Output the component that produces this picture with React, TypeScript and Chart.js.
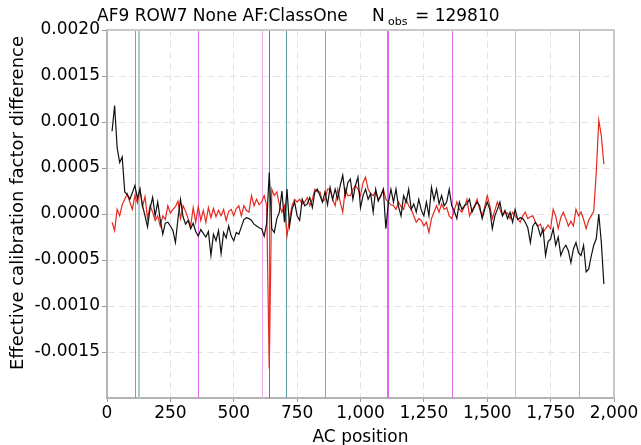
import React, { useEffect, useRef } from "react";
import { Chart, registerables } from "chart.js";

Chart.register(...registerables);

const FONT = "'DejaVu Sans', sans-serif";

// AC position of every sample
const acPositions = [
  20, 30, 40, 50, 60, 70, 80, 90, 100, 110,
  120, 130, 140, 150, 160, 170, 180, 190, 200, 210,
  220, 230, 240, 250, 260, 270, 280, 290, 300, 310,
  320, 330, 340, 350, 360, 370, 380, 390, 400, 410,
  420, 430, 440, 450, 460, 470, 480, 490, 500, 510,
  520, 530, 540, 550, 560, 570, 580, 590, 600, 610,
  620, 630, 640, 650, 660, 670, 680, 690, 700, 710,
  720, 730, 740, 750, 760, 770, 780, 790, 800, 810,
  820, 830, 840, 850, 860, 870, 880, 890, 900, 910,
  920, 930, 940, 950, 960, 970, 980, 990, 1000, 1010,
  1020, 1030, 1040, 1050, 1060, 1070, 1080, 1090, 1100, 1110,
  1120, 1130, 1140, 1150, 1160, 1170, 1180, 1190, 1200, 1210,
  1220, 1230, 1240, 1250, 1260, 1270, 1280, 1290, 1300, 1310,
  1320, 1330, 1340, 1350, 1360, 1370, 1380, 1390, 1400, 1410,
  1420, 1430, 1440, 1450, 1460, 1470, 1480, 1490, 1500, 1510,
  1520, 1530, 1540, 1550, 1560, 1570, 1580, 1590, 1600, 1610,
  1620, 1630, 1640, 1650, 1660, 1670, 1680, 1690, 1700, 1710,
  1720, 1730, 1740, 1750, 1760, 1770, 1780, 1790, 1800, 1810,
  1820, 1830, 1840, 1850, 1860, 1870, 1880, 1890, 1900, 1910,
  1920, 1930, 1940, 1950, 1960,
];

// black series
const blackSeries = [
  9.0e-4, 11.8e-4, 7.2e-4, 5.6e-4, 6.2e-4, 2.4e-4, 2.1e-4, 1.6e-4, 2.3e-4, 3.1e-4,
  1.7e-4, 2.7e-4, 0.9e-4, -0.2e-4, -1.4e-4, 0.6e-4, 1.8e-4, -0.2e-4, 1.3e-4, -0.6e-4,
  -2.2e-4, -1.0e-4, -0.9e-4, -1.3e-4, -1.8e-4, -3.1e-4, -0.5e-4, 1.6e-4, -0.3e-4, -1.1e-4,
  -0.7e-4, -1.6e-4, -1.0e-4, -1.9e-4, -2.4e-4, -1.7e-4, -2.1e-4, -2.5e-4, -1.9e-4, -4.5e-4,
  -2.2e-4, -2.9e-4, -1.8e-4, -4.3e-4, -2.0e-4, -2.6e-4, -1.3e-4, -2.4e-4, -2.9e-4, -2.0e-4,
  -2.2e-4, -1.4e-4, -0.6e-4, -0.4e-4, -0.5e-4, -0.7e-4, -1.1e-4, -1.3e-4, -1.5e-4, -1.6e-4,
  -2.4e-4, -1.0e-4, 4.5e-4, -1.6e-4, -2.0e-4, -0.5e-4, 0.2e-4, 2.5e-4, -0.9e-4, 2.7e-4,
  -1.3e-4, 0.5e-4, 1.3e-4, -0.2e-4, -0.7e-4, 1.6e-4, 0.9e-4, 1.1e-4, 1.8e-4, 0.7e-4,
  2.4e-4, 2.7e-4, 2.0e-4, 1.3e-4, 2.4e-4, 1.0e-4, 2.9e-4, 1.6e-4, 2.7e-4, 1.6e-4,
  3.1e-4, 4.2e-4, 2.0e-4, 3.4e-4, 3.8e-4, 1.6e-4, 3.1e-4, 4.0e-4, 0.7e-4, 2.0e-4,
  2.7e-4, 1.6e-4, 2.2e-4, 0.2e-4, 2.7e-4, 1.4e-4, 2.0e-4, 2.7e-4, -1.6e-4, 1.2e-4,
  2.7e-4, 1.3e-4, 2.7e-4, 0.8e-4, -0.2e-4, 2.0e-4, 1.3e-4, 2.7e-4, 0.5e-4, 1.1e-4,
  0.2e-4, 1.6e-4, 0.4e-4, -0.2e-4, 1.3e-4, -0.2e-4, 2.9e-4, 1.5e-4, 2.7e-4, 1.1e-4,
  2.0e-4, 0.9e-4, 1.3e-4, 2.7e-4, 0.9e-4, 0.3e-4, -0.5e-4, 1.3e-4, 0.5e-4, 0.9e-4,
  1.1e-4, 1.6e-4, 0.2e-4, 0.8e-4, 1.3e-4, 0.9e-4, -0.5e-4, 0.5e-4, 1.3e-4, 0.5e-4,
  -1.6e-4, -0.2e-4, 0.5e-4, 1.3e-4, -0.2e-4, 0.4e-4, -0.5e-4, 0.2e-4, -0.9e-4, 0.5e-4,
  -0.6e-4, -0.4e-4, -0.5e-4, -0.9e-4, -1.5e-4, -3.1e-4, -1.3e-4, -0.9e-4, -1.4e-4, -2.4e-4,
  -1.6e-4, -4.5e-4, -3.0e-4, -2.7e-4, -1.6e-4, -3.4e-4, -2.5e-4, -4.5e-4, -3.8e-4, -3.4e-4,
  -4.0e-4, -5.3e-4, -3.8e-4, -3.1e-4, -4.2e-4, -4.5e-4, -3.4e-4, -6.3e-4, -6.0e-4, -4.6e-4,
  -3.4e-4, -2.7e-4, 0.0e-4, -3.1e-4, -7.6e-4,
];

// red series
const redSeries = [
  -0.9e-4, -1.8e-4, 0.5e-4, -0.2e-4, 1.0e-4, 1.6e-4, 2.2e-4, 1.3e-4, 0.5e-4, 2.0e-4,
  1.2e-4, 2.7e-4, 0.8e-4, 1.9e-4, -0.5e-4, 0.9e-4, 0.2e-4, -0.7e-4, -0.2e-4, -1.3e-4,
  -0.2e-4, -0.6e-4, 0.9e-4, 0.1e-4, 0.5e-4, 0.8e-4, 1.4e-4, -0.5e-4, 0.9e-4, 0.3e-4,
  -0.5e-4, -1.3e-4, 0.7e-4, -0.9e-4, 0.8e-4, -0.7e-4, 0.4e-4, -0.9e-4, 0.7e-4, -0.4e-4,
  0.6e-4, -0.3e-4, 0.4e-4, -0.2e-4, 0.5e-4, -0.7e-4, 0.3e-4, 0.5e-4, -0.2e-4, 0.6e-4,
  0.9e-4, -0.2e-4, 0.9e-4, 0.4e-4, 0.2e-4, 2.0e-4, 0.9e-4, 1.6e-4, 1.0e-4, 1.3e-4,
  2.0e-4, 0.9e-4, -16.8e-4, 2.7e-4, 2.0e-4, 2.4e-4, 1.0e-4, 0.2e-4, 0.9e-4, -2.4e-4,
  -0.5e-4, 0.9e-4, 1.6e-4, 1.3e-4, 1.6e-4, 1.1e-4, 1.3e-4, 1.8e-4, 0.9e-4, 1.6e-4,
  2.7e-4, 2.4e-4, 2.4e-4, 1.3e-4, 1.6e-4, 2.7e-4, 2.7e-4, 1.6e-4, 0.9e-4, 2.7e-4,
  1.3e-4, 0.2e-4, 2.7e-4, 2.0e-4, 2.0e-4, 2.7e-4, 3.1e-4, 2.7e-4, 2.0e-4, 3.4e-4,
  4.0e-4, 2.7e-4, 2.2e-4, 2.0e-4, 2.4e-4, 1.6e-4, 1.9e-4, 2.7e-4, 1.6e-4, 1.3e-4,
  1.0e-4, 0.9e-4, 0.5e-4, 1.3e-4, 0.8e-4, 0.5e-4, 1.6e-4, 0.9e-4, 0.5e-4, -0.2e-4,
  -0.9e-4, -0.5e-4, -0.7e-4, -1.3e-4, -0.9e-4, -2.0e-4, -0.5e-4, 0.2e-4, 0.9e-4, 0.2e-4,
  1.1e-4, 0.5e-4, 0.7e-4, -0.2e-4, -0.5e-4, 0.4e-4, 1.3e-4, 0.5e-4, 0.2e-4, 0.8e-4,
  1.6e-4, -0.2e-4, 0.4e-4, 0.9e-4, 1.6e-4, 0.5e-4, -0.2e-4, 0.8e-4, 2.0e-4, 0.9e-4,
  -0.5e-4, 0.4e-4, 1.3e-4, 0.5e-4, -0.2e-4, 0.2e-4, 0.1e-4, -0.5e-4, 0.2e-4, -0.2e-4,
  -0.5e-4, -0.9e-4, -0.2e-4, 0.2e-4, -0.5e-4, -0.3e-4, -0.2e-4, -0.9e-4, -1.3e-4, -1.1e-4,
  -2.0e-4, -1.6e-4, -1.2e-4, -1.6e-4, 0.5e-4, -0.2e-4, -1.6e-4, -0.4e-4, 0.2e-4, -0.5e-4,
  -1.3e-4, -0.8e-4, -1.3e-4, 0.5e-4, -0.2e-4, 0.2e-4, -0.6e-4, -1.6e-4, -0.7e-4, -0.2e-4,
  0.3e-4, 4.5e-4, 10.2e-4, 8.5e-4, 5.4e-4,
];

// vertical reference lines (AC positions)
const magentaLines = [110, 360, 610, 860, 1110, 1360, 1610, 1860];
const magentaColors = ["#dd66e6", "#e070e8", "#f0a8f0", "#e070e8", "#dd66e6", "#e070e8", "#f0a8f0", "#e48ae8"];
const tealLines = [125, 641, 707, 1103];
const tealColors = ["#a9cccc", "#4f8484", "#5f9ea0", "#7fa8a8"];
const tealWidths = [2, 1, 1, 1];

const xTickValues = [0, 250, 500, 750, 1000, 1250, 1500, 1750, 2000];
const yTickValues = [-0.0015, -0.001, -0.0005, 0, 0.0005, 0.001, 0.0015, 0.002];

const TITLE_MAIN = "AF9 ROW7 None AF:ClassOne";
const TITLE_N = "N";
const TITLE_SUB = "obs";
const TITLE_COUNT = "= 129810";
const X_TITLE = "AC position";
const Y_TITLE = "Effective calibration factor difference";

const overlayPlugin = {
  id: "overlay",
  beforeDatasetsDraw(chart: any) {
    const { ctx, chartArea: a, scales } = chart;
    const x = scales.x;
    ctx.save();
    const drawV = (pos: number, color: string, w: number) => {
      const px = Math.round(x.getPixelForValue(pos)) + (w % 2 ? 0.5 : 0);
      ctx.strokeStyle = color;
      ctx.lineWidth = w;
      ctx.beginPath();
      ctx.moveTo(px, a.top);
      ctx.lineTo(px, a.bottom);
      ctx.stroke();
    };
    magentaLines.forEach((p, i) => drawV(p, magentaColors[i], 1));
    tealLines.forEach((p, i) => drawV(p, tealColors[i], tealWidths[i]));
    ctx.restore();
  },
  afterDraw(chart: any) {
    const { ctx, chartArea: a } = chart;
    ctx.save();
    // top/right frame
    ctx.strokeStyle = "#c8c8c8";
    ctx.lineWidth = 2;
    ctx.beginPath();
    ctx.moveTo(a.left, a.top);
    ctx.lineTo(a.right, a.top);
    ctx.lineTo(a.right, a.bottom);
    ctx.stroke();

    ctx.fillStyle = "#000";
    ctx.textBaseline = "alphabetic";
    ctx.textAlign = "left";
    ctx.font = `17px ${FONT}`;
    ctx.fillText(TITLE_MAIN, 97, 21);
    ctx.fillText(TITLE_N, 372, 21);
    ctx.fillText(TITLE_COUNT, 415, 21);
    ctx.font = `11px ${FONT}`;
    ctx.fillText(TITLE_SUB, 388, 25);

    ctx.font = `17px ${FONT}`;
    ctx.textAlign = "center";
    ctx.fillText(X_TITLE, (a.left + a.right) / 2, 442);

    ctx.save();
    ctx.translate(23, 203);
    ctx.rotate(-Math.PI / 2);
    ctx.font = `18px ${FONT}`;
    ctx.fillText(Y_TITLE, 0, 0);
    ctx.restore();
    ctx.restore();
  },
};

export default function App() {
  const ref = useRef<HTMLCanvasElement | null>(null);
  useEffect(() => {
    document.body.style.margin = "0";
    const canvas = ref.current;
    if (!canvas) return;
    const tickFont = { family: FONT, size: 17 };
    const chart = new Chart(canvas, {
      type: "line",
      data: {
        datasets: [
          {
            label: "black",
            data: acPositions.map((p, i) => ({ x: p, y: blackSeries[i] })),
            borderColor: "#111111",
            borderWidth: 1.2,
            pointRadius: 0,
            tension: 0,
          },
          {
            label: "red",
            data: acPositions.map((p, i) => ({ x: p, y: redSeries[i] })),
            borderColor: "#e8281e",
            borderWidth: 1.2,
            pointRadius: 0,
            tension: 0,
          },
        ],
      },
      options: {
        responsive: false,
        animation: false,
        devicePixelRatio: 1,
        layout: { padding: { top: 30, right: 27, left: 0, bottom: 0 } },
        plugins: {
          legend: { display: false },
          title: { display: false },
          tooltip: { enabled: false },
        },
        scales: {
          x: {
            type: "linear",
            min: 0,
            max: 2000,
            afterFit: (s: any) => {
              s.height = 47;
            },
            afterBuildTicks: (s: any) => {
              s.ticks = xTickValues.map((v) => ({ value: v }));
            },
            ticks: {
              font: tickFont,
              color: "#000",
              padding: 1,
              maxRotation: 0,
              autoSkip: false,
              callback: (v: any) => Number(v).toLocaleString("en-US"),
            },
            grid: {
              color: "#e4e4e4",
              lineWidth: 1,
              tickLength: 4,
              tickColor: "#999",
              tickBorderDash: [],
            },
            border: { display: true, color: "#b4b4b4", width: 2, dash: [7, 4] },
          },
          y: {
            type: "linear",
            min: -0.002,
            max: 0.002,
            afterFit: (s: any) => {
              s.width = 107;
            },
            afterBuildTicks: (s: any) => {
              s.ticks = yTickValues.map((v) => ({ value: v }));
            },
            ticks: {
              font: tickFont,
              color: "#000",
              padding: 2,
              autoSkip: false,
              callback: (v: any) => Number(v).toFixed(4),
            },
            grid: {
              color: "#e4e4e4",
              lineWidth: 1,
              tickLength: 5,
              tickColor: "#999",
              tickBorderDash: [],
            },
            border: { display: true, color: "#b4b4b4", width: 2, dash: [7, 4] },
          },
        },
      },
      plugins: [overlayPlugin],
    });
    return () => chart.destroy();
  }, []);
  return (
    <canvas
      ref={ref}
      width={641}
      height={445}
      style={{ display: "block", width: 641, height: 445 }}
    />
  );
}
